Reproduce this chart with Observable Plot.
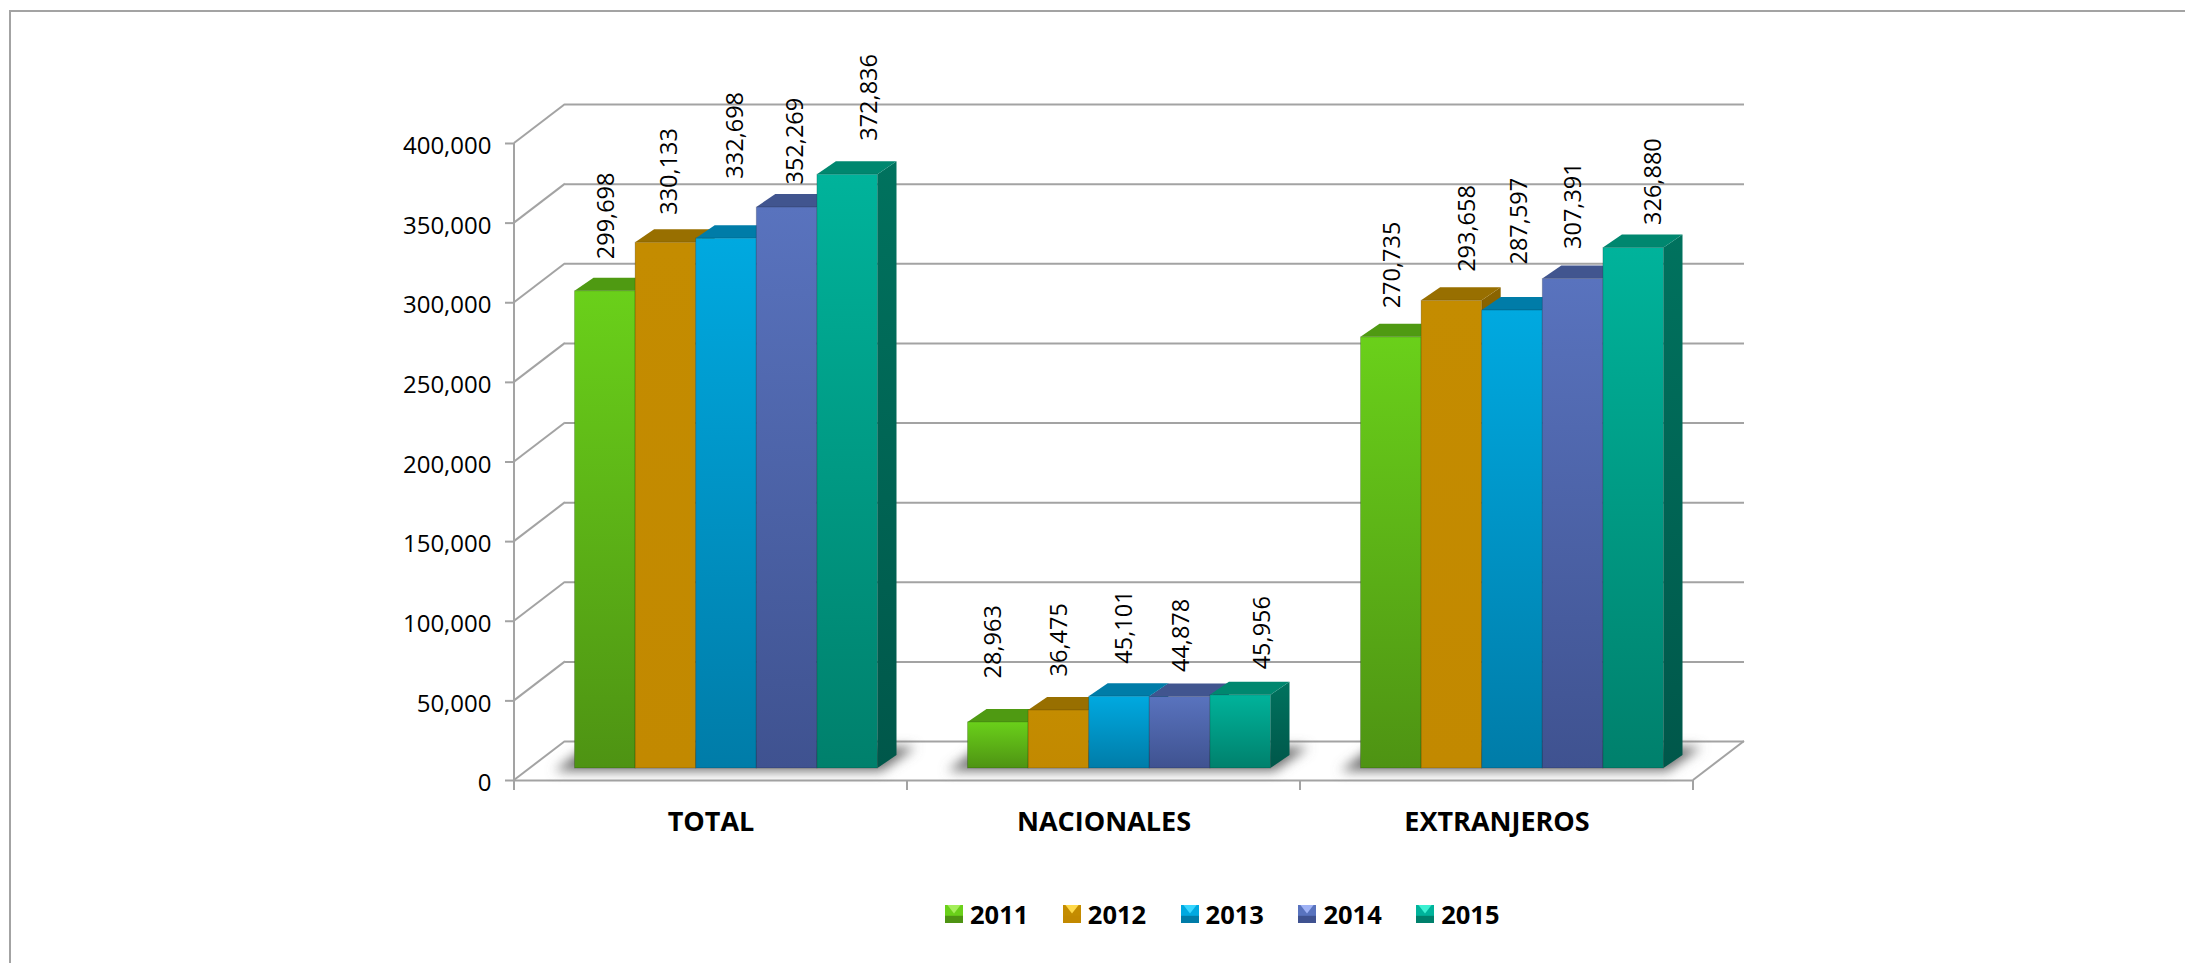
<!DOCTYPE html>
<html>
<head>
<meta charset="utf-8">
<style>
  html, body { margin: 0; padding: 0; background: #fff; width: 2185px; height: 963px; overflow: hidden; }
  body { position: relative; font-family: "Open Sans", sans-serif; }
  #frame { position: absolute; left: 9px; top: 10px; right: 0; bottom: 0; border-top: 2px solid #a3a3a3; border-left: 2px solid #a3a3a3; pointer-events: none; }
  #chart { position: absolute; left: 0; top: 0; }
  #chart svg { display: block; background: transparent; }
  #legend { position: absolute; left: 945px; top: 886px; height: 56px; display: flex; align-items: center; }
  .item { width: 117.8px; display: flex; align-items: center; font-weight: 700; font-size: 25.5px; color: #000; }
  .item svg { width: 18px; height: 18px; margin-right: 7px; flex: none; }
</style>
<script src="https://cdn.jsdelivr.net/npm/d3@7"></script>
<script src="https://cdn.jsdelivr.net/npm/@observablehq/plot@0.6"></script>
</head>
<body>
<div id="chart"></div>
<div id="legend"></div>
<div id="frame"></div>
<script>
const categories = ["TOTAL", "NACIONALES", "EXTRANJEROS"];
const years = ["2011", "2012", "2013", "2014", "2015"];
const total = [299698, 330133, 332698, 352269, 372836];
const nacionales = [28963, 36475, 45101, 44878, 45956];
const extranjeros = [270735, 293658, 287597, 307391, 326880];
const yTicks = [0, 50000, 100000, 150000, 200000, 250000, 300000, 350000, 400000];

// Colours per series: front top, front bottom, top face, side top, side bottom, legend highlight
const frontTop = ["#6ad01a", "#c48c00", "#00a9e0", "#5973be", "#00b39b"];
const frontBottom = ["#4e9313", "#c28900", "#007ca8", "#3f5290", "#00806c"];
const topFace = ["#4f9a12", "#986f00", "#007ca8", "#41558f", "#00876f"];
const sideTop = ["#45860f", "#8a6400", "#006e96", "#384a80", "#00725e"];
const sideBottom = ["#35680b", "#6a4d00", "#005474", "#2a3860", "#00574a"];
const legendLight = ["#a4ee5a", "#ffd94a", "#38d6ff", "#9fb2f5", "#3cf0d2"];

const series = [total, nacionales, extranjeros];
const rows = categories.flatMap((cat, c) =>
  years.map((year, i) => ({cat, year, value: series[c][i], i})));

// The source labels were hand placed, so each keeps its own offset from its bar.
const labelDx = [17, 19, 24.5, 24, 37,  11, 16, 20, 17, 37,  17, 31, 22.5, 16, 35];
const labelDy = [-44, -40, -72, -35, -46,  -56, -46, -45, -37, -38,  -41, -41, -58, -42, -35];

const FX = 15.5, FY = -12;      // shift of the bars into the floor
const DX = 19, DY = -13;        // depth of a bar
const WX = 51, WY = -39;        // depth of the chart box
const gridColor = "#a3a3a3";

const svgEl = (name) => d3.create("svg:" + name);

function defsMark() {
  const defs = svgEl("defs");
  const grad = (id, a, b) => {
    const g = defs.append("linearGradient").attr("id", id).attr("x1", 0).attr("y1", 0).attr("x2", 0).attr("y2", 1);
    g.append("stop").attr("offset", 0).attr("stop-color", a);
    g.append("stop").attr("offset", 1).attr("stop-color", b);
  };
  years.forEach((y, i) => {
    grad("front-" + y, frontTop[i], frontBottom[i]);
    grad("side-" + y, sideTop[i], sideBottom[i]);
  });
  defs.append("filter").attr("id", "soft").attr("x", "-20%").attr("y", "-60%").attr("width", "140%").attr("height", "220%")
    .append("feGaussianBlur").attr("stdDeviation", 6);
  return defs.node();
}

function polys(index, draw) {
  const g = svgEl("g");
  for (const i of index) {
    const {points, fill} = draw(rows[i]);
    g.append("polygon").attr("points", points.map(p => p.join(",")).join(" ")).attr("fill", fill);
  }
  return g.node();
}

const sideRender = (index, s) => polys(index, d => {
  const x = s.x(d.year) + s.x.bandwidth() + FX, y0 = s.y(d.value) + FY, y1 = s.y(0) + FY;
  return {points: [[x, y0], [x + DX, y0 + DY], [x + DX, y1 + DY], [x, y1]], fill: `url(#side-${d.year})`};
});

const topRender = (index, s) => polys(index, d => {
  const x0 = s.x(d.year) + FX, x1 = x0 + s.x.bandwidth(), y = s.y(d.value) + FY;
  return {points: [[x0, y], [x1, y], [x1 + DX, y + DY], [x0 + DX, y + DY]], fill: topFace[d.i]};
});

const shadowRender = (index, s) => {
  const left = s.x(years[0]) + FX, right = s.x(years[years.length - 1]) + s.x.bandwidth() + FX, y = s.y(0) + FY;
  return svgEl("polygon")
    .attr("points", [[left - 20, y + 3], [right + 4, y + 3], [right + 38, y - 21], [left + 12, y - 21]].map(p => p.join(",")).join(" "))
    .attr("fill", "#707070").attr("filter", "url(#soft)").node();
};

// Left wall, axis line, right edge of the floor and category ticks; drawn in the first facet only.
const wallRender = (index, s, v, dim) => {
  const g = svgEl("g").attr("stroke", gridColor).attr("stroke-width", 2).attr("fill", "none");
  const line = (x1, y1, x2, y2) => g.append("line").attr("x1", x1).attr("y1", y1).attr("x2", x2).attr("y2", y2);
  const last = categories[categories.length - 1];
  const left = s.fx(categories[0]), right = s.fx(last) + s.fx.bandwidth();
  for (const t of yTicks) line(left, s.y(t), left + WX, s.y(t) + WY);
  line(left, s.y(0), left, s.y(yTicks[yTicks.length - 1]));
  line(right, s.y(0), right + WX, s.y(0) + WY);
  for (const c of categories) line(s.fx(c), s.y(0), s.fx(c), s.y(0) + 10);
  line(right, s.y(0), right, s.y(0) + 10);
  return g.node();
};

const labelMarks = rows.map((d, k) => Plot.text([d], {
  fx: "cat", x: "year", y: "value",
  text: r => d3.format(",")(r.value),
  rotate: -90, textAnchor: "start", lineAnchor: "middle",
  dx: labelDx[k], dy: labelDy[k], fontSize: 23.5, fill: "#000"
}));

const chart = Plot.plot({
  width: 2185, height: 880,
  marginLeft: 514, marginRight: 492, marginTop: 143, marginBottom: 100,
  style: {fontFamily: "'Open Sans', sans-serif", background: "transparent", overflow: "visible"},
  fx: {domain: categories, padding: 0, round: false, axis: null},
  x: {domain: years, paddingInner: 0, paddingOuter: 0.7425, round: false, axis: null},
  y: {domain: [0, 400000], axis: null},
  color: {type: "ordinal", domain: years, range: years.map(y => `url(#front-${y})`)},
  marks: [
    defsMark,
    Plot.ruleY(yTicks, {dx: WX, dy: WY, stroke: gridColor, strokeWidth: 2}),
    Plot.ruleY([0], {stroke: gridColor, strokeWidth: 2}),
    Plot.ruleY(yTicks.map(t => ({t, cat: categories[0]})), {fx: "cat", y: "t", render: wallRender}),
    Plot.axisY({
      anchor: "left", ticks: yTicks, tickSize: 9, tickFormat: () => "", label: null,
      stroke: gridColor, strokeWidth: 2, strokeOpacity: 1
    }),
    Plot.axisY({
      anchor: "left", ticks: yTicks, tickSize: 0, tickPadding: 23, dy: 3, tickFormat: d3.format(","), label: null,
      fontSize: 24, fill: "#000"
    }),
    Plot.axisFx({
      anchor: "bottom", tickSize: 0, tickPadding: 31, label: null,
      fontSize: 27, fontWeight: 700, fill: "#000"
    }),
    Plot.barY(rows, {fx: "cat", x: "year", y: "value", render: shadowRender}),
    Plot.barY(rows, {fx: "cat", x: "year", y: "value", render: sideRender}),
    Plot.barY(rows, {fx: "cat", x: "year", y: "value", render: topRender}),
    Plot.barY(rows, {
      fx: "cat", x: "year", y: "value", fill: "year", dx: FX, dy: FY,
      stroke: "#000", strokeOpacity: 0.18, strokeWidth: 1
    }),
    ...labelMarks
  ]
});
document.getElementById("chart").append(chart);

const legend = d3.select("#legend");
years.forEach((y, i) => {
  const item = legend.append("div").attr("class", "item");
  const s = item.append("svg").attr("viewBox", "0 0 15 15");
  s.append("rect").attr("width", 15).attr("height", 15).attr("fill", frontBottom[i]);
  s.append("polygon").attr("points", "0,0 15,0 15,9 0,9").attr("fill", frontTop[i]);
  s.append("polygon").attr("points", "2,0 13,0 7.5,7").attr("fill", legendLight[i]);
  item.append("span").text(y);
});
</script>
</body>
</html>
